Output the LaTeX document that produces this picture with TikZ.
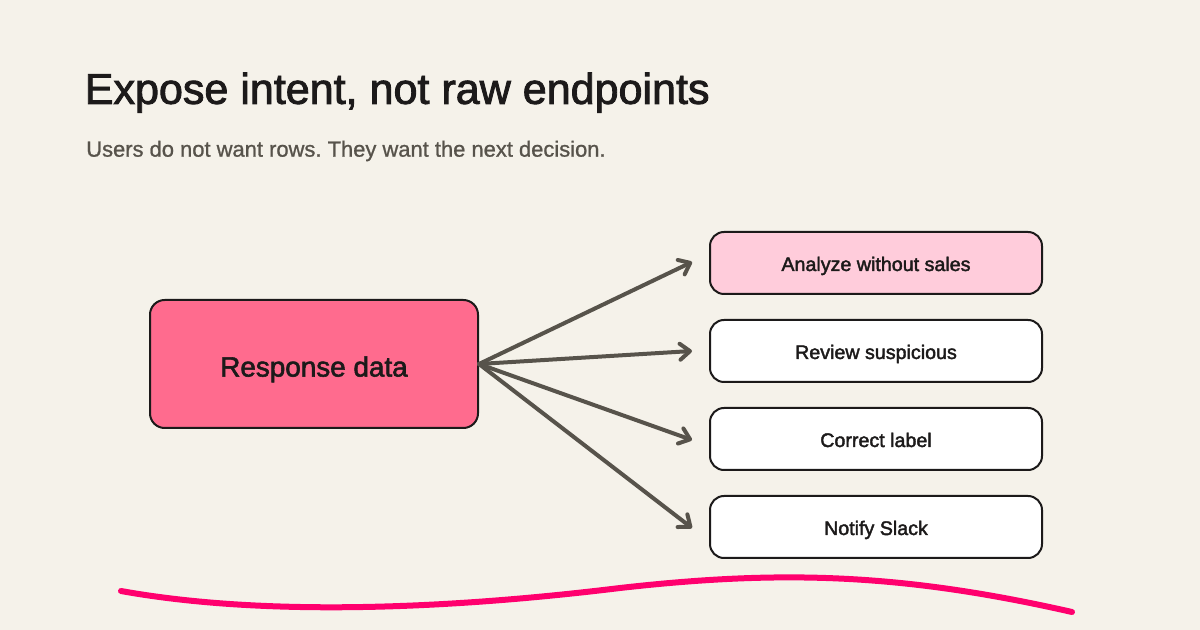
\documentclass[tikz,border=0pt]{standalone}
\usepackage{fontspec}
\setmainfont{Liberation Sans}[FakeBold=2]
\newfontfamily\subfont{Liberation Sans}[FakeBold=1]
\usetikzlibrary{arrows.meta}
\definecolor{bgc}{HTML}{F5F2EA}
\definecolor{ink}{HTML}{1C1A1A}
\definecolor{gray}{HTML}{57534B}
\definecolor{hot}{HTML}{FF6B8E}
\definecolor{soft}{HTML}{FFCCDB}
\definecolor{mag}{HTML}{FF006E}
\tikzset{
  x=0.75pt,y=-0.75pt,
  srcbox/.style={draw=ink,line width=1.5pt,rounded corners=11pt,fill=hot,minimum width=246pt,minimum height=96pt,inner sep=0pt,text=ink,text height=18.8pt,text depth=0pt,font=\fontsize{20.9}{24}\selectfont},
  optbox/.style={draw=ink,line width=1.5pt,rounded corners=10.5pt,fill=white,minimum width=249pt,minimum height=46.5pt,inner sep=0pt,text=ink,text height=12pt,text depth=0pt,font=\fontsize{14.75}{18}\selectfont},
  flow/.style={draw=gray,line width=3pt,line cap=round,-{Straight Barb[length=7.5pt,width=12pt,line width=3pt,round]}},
  titletext/.style={anchor=west,inner sep=0pt,text=ink,font=\fontsize{32.3}{36}\selectfont},
  subtext/.style={anchor=west,inner sep=0pt,text=gray,font=\subfont\fontsize{16.45}{20}\selectfont}
}
\begin{document}
\begin{tikzpicture}
\useasboundingbox (0,0) rectangle (1200,630);
\fill[bgc] (0,0) rectangle (1200,630);
\node[titletext] (title) at (84.5,92.7) {Expose intent, not raw endpoints};
\node[subtext] (sub) at (86,151) {Users do not want rows.\hspace{-1.5pt} They want the next decision.};
\node[srcbox] (src) at (314,364) {Response data};
\node[optbox,fill=soft] (a) at (876,263) {Analyze without sales};
\node[optbox] (b) at (876,351) {Review suspicious};
\node[optbox] (c) at (876,439) {Correct label};
\node[optbox] (d) at (876,527) {Notify Slack};
\coordinate (ea) at (692,262);
\coordinate (eb) at (692,351);
\coordinate (ec) at (692,440);
\coordinate (ed) at (692,528);
\draw[flow] (src.east) -- (ea);
\draw[flow] (src.east) -- (eb);
\draw[flow] (src.east) -- (ec);
\draw[flow] (src.east) -- (ed);
\draw[mag,line width=4.5pt,line cap=round] (121,591) .. controls (260,616) and (440,610) .. (620,588) .. controls (780,570) and (900,573) .. (1072,612);
\end{tikzpicture}
\end{document}
